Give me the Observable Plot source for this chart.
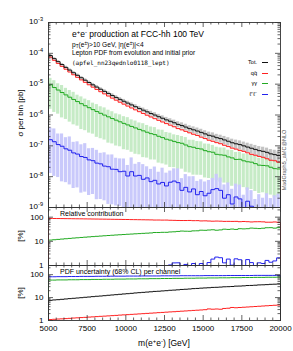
<!DOCTYPE html>
<html><head><meta charset="utf-8">
<script src="https://cdn.jsdelivr.net/npm/d3@7"></script>
<script src="https://cdn.jsdelivr.net/npm/@observablehq/plot@0.6"></script>
<style>
body{margin:0;background:#fff;}
#wrap{position:relative;width:293px;height:351px;overflow:hidden;font-family:"Liberation Sans",Arial,sans-serif;color:#000;}
#wrap svg{position:absolute;left:0;}
.t{position:absolute;white-space:nowrap;line-height:1;}
.t sup{font-size:70%;vertical-align:0;position:relative;top:-0.45em;}
.t sub{font-size:70%;vertical-align:0;position:relative;top:0.25em;}
</style></head><body><div id="wrap"></div>
<script>
// ---- data ----
const binStart = 5000, binWidth = 250;
const xMajor = [5000, 7500, 10000, 12500, 15000, 17500, 20000];
const mainYTicks = [1e-9, 1e-8, 1e-7, 1e-6, 1e-5, 1e-4, 1e-3];
const pctTicks = [1, 10, 100];
const legendLabels = ["Tot.", "qq\u0304", "\u03b3\u03b3", "\u2113\u207a\u2113\u207b"];

// sigma per bin [pb], 250 GeV bins from 5000 to 20000 GeV
const qq = [7.50e-5,5.92e-5,4.71e-5,3.78e-5,3.05e-5,2.48e-5,2.02e-5,1.665e-5,1.376e-5,1.143e-5,
 9.55e-6,8.00e-6,6.74e-6,5.70e-6,4.84e-6,4.12e-6,3.52e-6,3.02e-6,2.60e-6,2.245e-6,
 1.944e-6,1.688e-6,1.468e-6,1.281e-6,1.121e-6,9.83e-7,8.63e-7,7.60e-7,6.71e-7,5.93e-7,
 5.26e-7,4.67e-7,4.15e-7,3.62e-7,3.30e-7,2.95e-7,2.64e-7,2.37e-7,2.17e-7,1.91e-7,
 1.72e-7,1.52e-7,1.403e-7,1.269e-7,1.17e-7,1.041e-7,9.45e-8,8.41e-8,7.81e-8,7.12e-8,
 6.62e-8,5.92e-8,5.29e-8,4.95e-8,4.53e-8,4.24e-8,3.81e-8,3.40e-8,3.28e-8,2.95e-8];
const aa = [9.54e-6,7.81e-6,6.45e-6,5.37e-6,4.49e-6,3.78e-6,3.20e-6,2.725e-6,2.33e-6,2.00e-6,
 1.727e-6,1.496e-6,1.301e-6,1.135e-6,9.94e-7,8.73e-7,7.69e-7,6.80e-7,6.02e-7,5.35e-7,
 4.77e-7,4.26e-7,3.81e-7,3.41e-7,3.07e-7,2.76e-7,2.49e-7,2.31e-7,2.04e-7,1.852e-7,
 1.64e-7,1.531e-7,1.395e-7,1.274e-7,1.21e-7,1.066e-7,9.4e-8,8.97e-8,8.25e-8,7.9e-8,
 6.99e-8,6.45e-8,6.2e-8,5.3e-8,5.10e-8,4.95e-8,4.38e-8,4.06e-8,3.62e-8,3.66e-8,
 3.27e-8,3.04e-8,2.95e-8,2.65e-8,2.36e-8,2.31e-8,2.25e-8,2.02e-8,1.82e-8,1.776e-8];
const ll = [1.58e-7,1.36e-7,1.10e-7,9.7e-8,8.0e-8,7.2e-8,5.9e-8,5.4e-8,4.5e-8,4.2e-8,
 3.5e-8,3.3e-8,2.75e-8,2.6e-8,2.2e-8,2.1e-8,1.75e-8,1.72e-8,1.45e-8,1.5e-8,
 1.05e-8,1.45e-8,1.05e-8,1.1e-8,8.2e-9,9.1e-9,6.9e-9,7.6e-9,5.8e-9,6.5e-9,
 5.0e-9,6.6e-9,7.2e-9,6.4e-9,3.6e-9,4.5e-9,3.2e-9,4.0e-9,2.6e-9,3.3e-9,
 2.4e-9,2.9e-9,3.8e-9,4.1e-9,3.6e-9,2.0e-9,2.6e-9,1.3e-9,2.2e-9,1.9e-9,
 1.0e-9,1.6e-9,1.1e-9,0.7e-9,0.9e-9,0.8e-9,1.0e-9,0.75e-9,0.8e-9,1.0e-9];

// band limits (multiplicative) around the photon-initiated and lepton-initiated histograms
const aaBandHi = [1.62,1.66,1.60,1.68,1.63,1.65,1.70,1.61,1.66,1.64,1.69,1.62,1.67,1.63,1.71,1.64,1.66,1.60,1.68,1.65,
 1.72,1.63,1.67,1.62,1.70,1.66,1.64,1.69,1.61,1.73,1.65,1.68,1.63,1.70,1.66,1.74,1.62,1.69,1.67,1.71,
 1.64,1.75,1.66,1.70,1.68,1.72,1.65,1.76,1.69,1.71,1.67,1.74,1.70,1.73,1.68,1.77,1.71,1.74,1.72,1.75];
const aaBandLo = [0.16,0.155,0.165,0.15,0.16,0.155,0.15,0.16,0.145,0.155,0.15,0.16,0.145,0.15,0.155,0.14,0.15,0.145,0.155,0.14,
 0.15,0.145,0.14,0.15,0.135,0.145,0.14,0.15,0.135,0.14,0.145,0.13,0.14,0.135,0.145,0.13,0.14,0.125,0.135,0.14,
 0.13,0.135,0.125,0.14,0.13,0.125,0.135,0.12,0.13,0.125,0.135,0.12,0.13,0.125,0.12,0.13,0.115,0.125,0.12,0.115];
const llBandHi = [2.4,2.6,2.2,2.5,2.3,2.7,2.2,2.5,2.4,2.8,2.3,2.5,2.6,2.2,2.7,2.4,2.9,2.3,2.6,2.5,
 2.2,2.8,2.4,2.6,3.0,2.3,2.5,2.7,2.4,2.9,2.6,2.3,2.5,2.8,2.4,2.6,3.1,2.5,2.7,2.4,
 2.8,2.6,2.3,2.9,2.5,2.7,2.4,3.0,2.6,2.8,2.5,2.7,3.2,2.6,2.9,2.5,2.8,2.6,3.0,2.7];
const llBandLo = [0.08,0.075,0.085,0.07,0.08,0.075,0.07,0.08,0.065,0.075,0.07,0.08,0.065,0.07,0.075,0.06,0.07,0.065,0.075,0.06,
 0.07,0.065,0.06,0.07,0.06,0.065,0.06,0.07,0.055,0.06,0.065,0.055,0.06,0.055,0.065,0.05,0.06,0.05,0.055,0.06,
 0.05,0.055,0.05,0.06,0.05,0.05,0.055,0.045,0.05,0.05,0.055,0.045,0.05,0.05,0.045,0.05,0.045,0.05,0.045,0.045];

// PDF uncertainty (68% CL) per channel [%]
const uncTot = [7.6,7.9,8.1,8.4,8.7,9.0,9.3,9.6,9.9,10.3,10.6,11.0,11.4,11.7,12.1,12.6,13.0,13.4,13.9,14.4,
 14.8,15.3,15.9,16.4,16.9,17.4,17.9,18.6,18.9,19.5,20.0,20.8,21.2,21.8,22.6,23.1,23.7,24.6,25.1,25.8,
 26.4,26.9,27.8,28.1,28.7,29.6,29.9,30.5,31.6,31.8,32.5,33.6,33.9,34.6,35.7,36.1,36.8,37.9,38.4,39.2];
const uncQQ = [1.10,1.13,1.16,1.18,1.21,1.24,1.28,1.31,1.34,1.37,1.41,1.44,1.48,1.52,1.55,1.59,1.63,1.67,1.72,1.76,
 1.80,1.85,1.89,1.94,1.99,2.04,2.09,2.14,2.20,2.25,2.31,2.37,2.42,2.49,2.55,2.61,2.68,2.75,2.81,2.88,
 2.96,3.20,3.11,3.18,3.10,3.35,3.43,3.70,3.60,3.69,3.79,3.88,3.98,4.08,4.18,4.29,4.39,4.50,4.62,4.73];
const uncAA = [58,58,59,59,59,60,60,60,61,61,61,62,62,62,63,63,63,64,64,64,
 65,65,65,66,66,66,67,67,67,68,68,68,69,69,69,70,70,70,71,71,
 71,72,72,72,73,73,73,74,74,74,75,75,75,76,76,76,77,77,77,78];
const uncLL = [81,81,82,82,82,83,83,83,84,84,84,84,85,85,85,85,86,86,86,86,
 87,87,87,87,88,88,88,88,88,89,89,89,89,89,90,90,90,90,90,90,
 91,91,91,91,91,91,92,92,92,92,92,92,92,93,93,93,93,93,93,93];

// ---- helpers ----
const W = 293, ML = 48, MR = 13;
const gevPerPx = 15000 / (W - ML - MR);
const xMinor = d3.range(5000, 20001, 500).filter(v => !xMajor.includes(v));
const logMinor = (e0, e1) => { const a = []; for (let e = e0; e < e1; e++) for (let m = 2; m <= 9; m++) a.push(m * Math.pow(10, e)); return a; };
const wrap = document.getElementById("wrap");

const bins = qq.map((v, i) => ({
  lo: binStart + i * binWidth, hi: binStart + (i + 1) * binWidth,
  qq: v, aa: aa[i], ll: ll[i], tot: v + aa[i] + ll[i]
}));
bins.forEach((b, i) => {
  b.relQQ = 100 * b.qq / b.tot; b.relAA = 100 * b.aa / b.tot; b.relLL = 100 * b.ll / b.tot;
  b.totHi = b.tot * (1 + uncTot[i] / 100); b.totLo = b.tot * (1 - uncTot[i] / 100);
  b.qqHi = b.qq * (1 + uncQQ[i] / 100); b.qqLo = b.qq * (1 - uncQQ[i] / 100);
  b.aaHi = b.aa * aaBandHi[i]; b.aaLo = b.aa * aaBandLo[i];
  b.llHi = b.ll * llBandHi[i]; b.llLo = b.ll * llBandLo[i];
});

function steps(vals, lo, hi) {
  const c = v => Math.max(lo, Math.min(hi, v));
  const end = binStart + vals.length * binWidth;
  const pts = [{x: binStart, y: lo}];
  vals.forEach((v, i) => pts.push({x: binStart + i * binWidth, y: c(v)}));
  pts.push({x: end, y: c(vals[vals.length - 1])});
  pts.push({x: end, y: lo});
  return pts;
}
function stepLine(vals, dom, color, w = 1) {
  return Plot.line(steps(vals, dom[0], dom[1]), {x: "x", y: "y", curve: "step-after", stroke: color, strokeWidth: w});
}
function band(lo, hi, dom, fill, opacity = 1) {
  const c = v => Math.max(dom[0], Math.min(dom[1], v));
  return Plot.rect(bins, {x1: "lo", x2: "hi", y1: d => c(d[lo]), y2: d => c(d[hi]), fill, fillOpacity: opacity, insetLeft: 0.35, insetRight: 0.35});
}
function ticks(dom, pxPerDec, major, minor) {
  const f = px => Math.pow(10, px / pxPerDec);
  const st = {stroke: "#222", strokeWidth: 0.7};
  const m = [];
  for (const [arr, len] of [[major, 5], [minor, 2.5]]) {
    m.push(Plot.ruleY(arr, {y: d => d, x1: 5000, x2: 5000 + len * gevPerPx, ...st}));
    m.push(Plot.ruleY(arr, {y: d => d, x1: 20000 - len * gevPerPx, x2: 20000, ...st}));
  }
  for (const [arr, len] of [[xMajor, 5], [xMinor, 2.5]]) {
    m.push(Plot.ruleX(arr, {x: d => d, y1: dom[0], y2: dom[0] * f(len), ...st}));
    m.push(Plot.ruleX(arr, {x: d => d, y1: dom[1] / f(len), y2: dom[1], ...st}));
  }
  return m;
}
function panel(top, h, mt, mb, dom, marks) {
  const svg = Plot.plot({
    width: W, height: h, marginLeft: ML, marginRight: MR, marginTop: mt, marginBottom: mb,
    style: {background: "transparent", fontFamily: "Liberation Sans, Arial, sans-serif", fontSize: "8px", overflow: "visible"},
    x: {domain: [5000, 20000], axis: null},
    y: {type: "log", domain: dom, axis: null},
    marks
  });
  svg.style.top = top + "px";
  wrap.appendChild(svg);
  return svg;
}
function txt(html, left, top, css = "") {
  const d = document.createElement("div");
  d.className = "t"; d.innerHTML = html;
  d.style.cssText += `left:${left}px;top:${top}px;` + css;
  wrap.appendChild(d);
  return d;
}
const pctLabel = d => String(d);

// ---- main panel ----
const domMain = [1e-9, 1e-3];
const mainSvg = panel(0, 208, 22, 1, domMain, [
  band("aaLo", "aaHi", domMain, "#c6ebc6"),
  band("llLo", "llHi", domMain, "#c9c9fb"),
  band("qqLo", "qqHi", domMain, "#ffa8a8", 0.8),
  band("totLo", "totHi", domMain, "#b4b4b4", 0.8),
  stepLine(ll, domMain, "#2222ee"),
  stepLine(aa, domMain, "#22aa22"),
  stepLine(qq, domMain, "#ff2020"),
  stepLine(bins.map(b => b.tot), domMain, "#111"),
  ...ticks(domMain, 185 / 6, mainYTicks, logMinor(-9, -3)),
  Plot.frame({stroke: "#333", strokeWidth: 0.9})
]);
const yMain = mainSvg.scale("y");
mainYTicks.forEach(v => {
  const e = Math.round(Math.log10(v));
  txt(`10<sup>${e}</sup>`, 0, yMain.apply(v), "width:43px;text-align:right;transform:translateY(-50%);font-size:8px;");
});

// ---- relative contribution panel ----
const domRel = [1, Math.pow(10, 2.4)];
const pctMinor = [2,3,4,5,6,7,8,9,20,30,40,50,60,70,80,90,200];
panel(200, 66, 7, 1, domRel, [
  stepLine(bins.map(b => b.relLL), domRel, "#2222ee"),
  stepLine(bins.map(b => b.relAA), domRel, "#22aa22"),
  stepLine(bins.map(b => b.relQQ), domRel, "#ff2020"),
  ...ticks(domRel, 58 / 2.4, pctTicks, pctMinor),
  Plot.frame({stroke: "#333", strokeWidth: 0.9}),
  Plot.text(pctTicks, {x: 5000, y: d => d, text: pctLabel, textAnchor: "end", dx: -5, fontSize: 8, fill: "#000"})
]);

// ---- PDF uncertainty panel ----
const domPdf = [1, Math.pow(10, 2.4)];
panel(258, 93, 7, 31, domPdf, [
  stepLine(uncLL, domPdf, "#2222ee"),
  stepLine(uncAA, domPdf, "#22aa22"),
  stepLine(uncQQ, domPdf, "#ff2020"),
  stepLine(uncTot, domPdf, "#111"),
  ...ticks(domPdf, 55 / 2.4, pctTicks, pctMinor),
  Plot.frame({stroke: "#333", strokeWidth: 0.9}),
  Plot.text(pctTicks, {x: 5000, y: d => d, text: pctLabel, textAnchor: "end", dx: -5, fontSize: 8, fill: "#000"}),
  Plot.text(xMajor, {x: d => d, y: domPdf[0], text: d => String(d), dy: 8, fontSize: 8, fill: "#000"})
]);

// ---- texts ----
txt("e<sup>+</sup>e<sup>-</sup> production at FCC-hh 100 TeV", 72, 34, "font-size:8.5px;transform:translateY(-50%);");
txt("p<sub>T</sub>(e<sup>\u00b1</sup>)&gt;10 GeV, |\u03b7(e<sup>\u00b1</sup>)|&lt;4", 72, 45, "font-size:6.6px;transform:translateY(-50%);");
txt("Lepton PDF from evolution and initial prior", 72, 53, "font-size:6.6px;transform:translateY(-50%);");
txt("(apfel_nn23qednlo0118_lept)", 72, 63, "font-family:'DejaVu Sans Mono',monospace;font-size:6px;transform:translateY(-50%);");

const legendColors = ["#111", "#ff2020", "#22aa22", "#2222ee"];
const legendY = [63, 73.5, 84, 94.5];
legendLabels.forEach((l, i) => {
  txt(l, 0, legendY[i], "width:257px;text-align:right;font-size:5.6px;transform:translateY(-50%);");
  const d = document.createElement("div");
  d.style.cssText = `position:absolute;left:262px;top:${legendY[i] - 0.6}px;width:6px;height:0;border-top:1.3px solid ${legendColors[i]};`;
  wrap.appendChild(d);
});

txt("MadGraph5_aMC@NLO", 285, 160, "font-size:5.5px;color:#555;transform:translate(-50%,-50%) rotate(-90deg);");
txt("\u03c3 per bin [pb]", 21, 113, "font-size:8px;transform:translate(-50%,-50%) rotate(-90deg);");
txt("[%]", 21, 236, "font-size:8px;transform:translate(-50%,-50%) rotate(-90deg);");
txt("[%]", 21, 293, "font-size:8px;transform:translate(-50%,-50%) rotate(-90deg);");
txt("Relative contribution", 60, 213, "font-size:7px;transform:translateY(-50%);");
txt("PDF uncertainty (68% CL) per channel", 60, 271, "font-size:7px;transform:translateY(-50%);");
txt("m(e<sup>+</sup>e<sup>-</sup>) [GeV]", 164, 343, "font-size:8.5px;transform:translate(-50%,-50%);");
</script></body></html>
